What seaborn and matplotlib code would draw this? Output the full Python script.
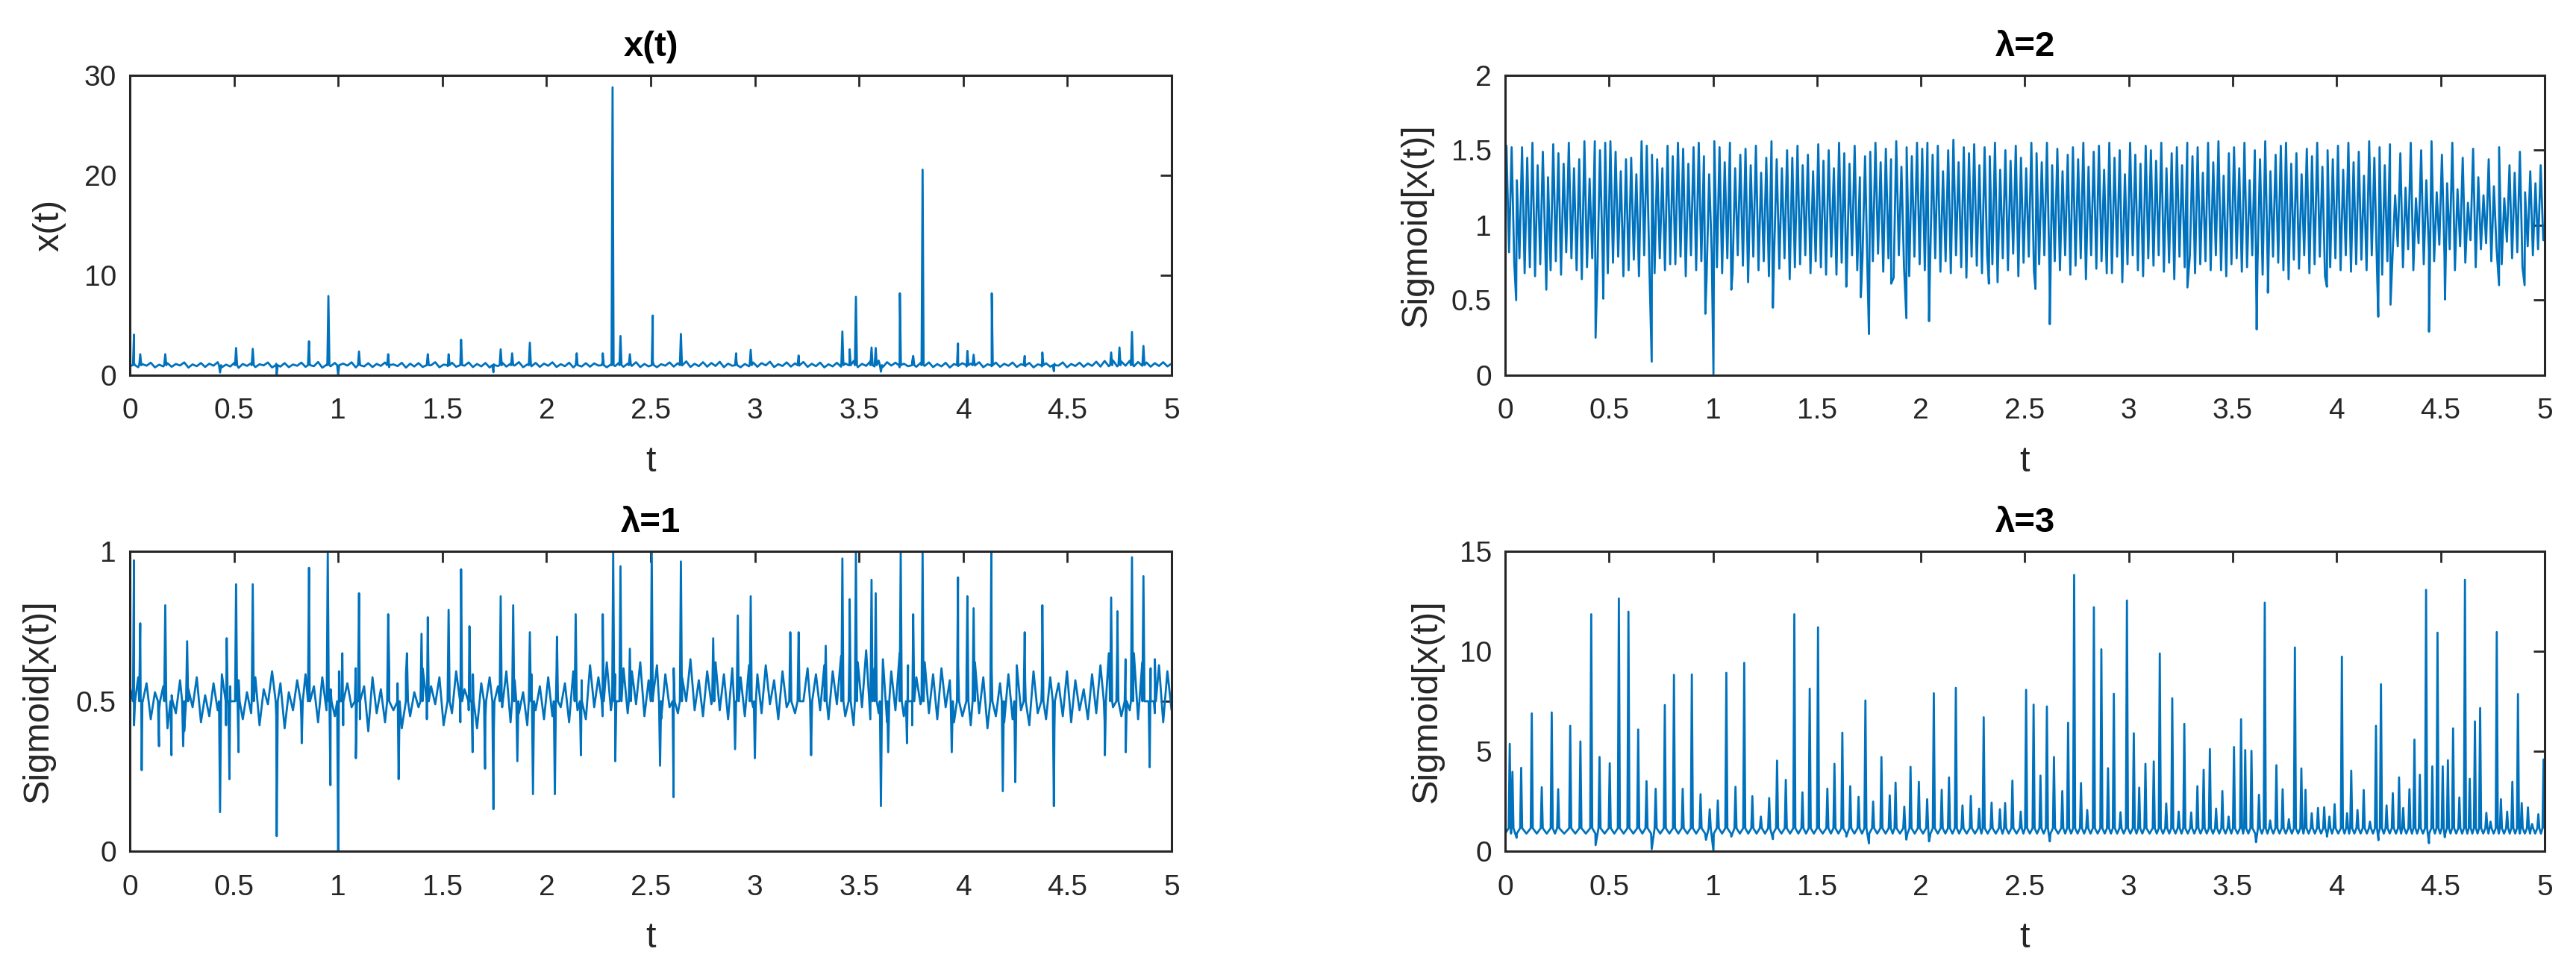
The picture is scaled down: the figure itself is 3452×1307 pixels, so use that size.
import numpy as np
import pandas as pd
import matplotlib
matplotlib.use("Agg")
import matplotlib.pyplot as plt
from matplotlib.ticker import FuncFormatter
import seaborn as sns

# ---------------- valores ----------------
T_MAX = 5.0

# x(t): ruido de base + picos
x_base = [
    0.92, 1.18, 0.80, 1.10, 0.95, 1.25, 0.78, 1.05, 0.88, 1.20,
    0.84, 1.12, 0.97, 1.28, 0.76, 1.08, 0.90, 1.22, 0.82, 1.15,
    0.95, 1.30, 0.79, 1.06, 0.87, 1.24, 0.74, 1.12, 0.93, 1.19,
    0.81, 1.09, 0.98, 1.27, 0.77, 1.14, 0.86, 1.21, 0.80, 1.07,
    0.94, 1.26, 0.83, 1.11, 0.90, 1.32, 0.75, 1.04, 0.89, 1.23,
    0.85, 1.16, 0.96, 1.29, 0.78, 1.10, 0.88, 1.20, 0.81, 1.13,
    0.93, 1.27, 0.80, 1.08, 0.91, 1.24, 0.76, 1.15, 0.87, 1.21,
    0.82, 1.11, 0.99, 1.30, 0.79, 1.06, 0.90, 1.25, 0.84, 1.17,
    0.95, 1.28, 0.81, 1.12, 0.88, 1.22, 0.77, 1.09, 0.92, 1.26,
    0.86, 1.14, 0.97, 1.31, 0.80, 1.07, 0.89, 1.23, 0.83, 1.16,
    0.94, 1.29, 0.82, 1.10, 0.90, 1.25, 0.78, 1.13, 0.87, 1.20,
    0.85, 1.18, 0.96, 1.33, 0.79, 1.08, 0.91, 1.27, 0.84, 1.15,
    0.93, 1.30, 0.81, 1.12, 0.88, 1.36, 0.80, 1.10, 0.95, 1.28,
    0.86, 1.20, 0.97, 1.38, 0.82, 1.14, 0.90, 1.30, 0.85, 1.22,
    0.92, 1.34, 0.80, 1.16, 0.94, 1.40, 0.79, 1.12, 0.89, 1.27,
    0.84, 1.21, 0.98, 1.35, 0.81, 1.10, 0.92, 1.28, 0.86, 1.18,
    0.95, 1.32, 0.83, 1.14, 0.90, 1.26, 0.78, 1.09, 0.88, 1.24,
    0.85, 1.17, 0.99, 1.42, 0.80, 1.13, 0.93, 1.38, 0.87, 1.45,
    0.82, 1.30, 0.96, 1.25, 0.79, 1.15, 0.90, 1.36, 0.84, 1.22,
    0.93, 1.28, 0.81, 1.11, 0.88, 1.24, 0.77, 1.12, 0.91, 1.20,
    0.86, 1.16, 0.97, 1.30, 0.80, 1.09, 0.89, 1.26, 0.83, 1.14,
    0.94, 1.27, 0.82, 1.10, 0.90, 1.23, 0.78, 1.08, 0.87, 1.19,
    0.85, 1.14, 0.96, 1.28, 0.79, 1.12, 0.92, 1.25, 0.84, 1.17,
    0.93, 1.35, 0.86, 1.42, 0.90, 1.48, 0.88, 1.36, 0.95, 1.44,
    0.89, 1.32, 0.94, 1.27, 0.85, 1.20, 0.92, 1.30, 0.88, 1.15]
x_spk_t = [0.020, 0.050, 0.170, 0.433, 0.510, 0.590, 0.705, 0.860, 0.953, 1.000,
           1.100, 1.240, 1.430, 1.530, 1.590, 1.745, 1.780, 1.835, 1.920, 2.145,
           2.270, 2.317, 2.355, 2.400, 2.510, 2.645, 2.910, 2.980, 3.210, 3.420,
           3.455, 3.485, 3.560, 3.580, 3.605, 3.696, 3.760, 3.805, 3.975, 4.020,
           4.050, 4.137, 4.295, 4.380, 4.435, 4.710, 4.750, 4.810, 4.865]
x_spk_v = [4.05, 2.10, 2.10, 0.27, 2.72, 2.64, 0.10, 3.39, 7.92, 0.00,
           2.37, 2.10, 2.10, 2.10, 3.55, 0.30, 2.59, 2.19, 3.25, 2.19,
           2.19, 28.8, 3.92, 2.10, 5.97, 4.13, 2.19, 2.53, 1.97, 4.37,
           2.59, 7.84, 2.77, 2.72, 0.35, 8.19, 1.92, 20.56, 3.17, 2.43,
           2.05, 8.19, 1.92, 2.27, 0.40, 2.27, 2.77, 4.32, 2.93]
X_SHOULDER = 1.0

# lambda = 2: maximos e minimos de cada ciclo + vales profundos
l2_peaks = [
    1.53, 1.52, 1.30, 1.52, 1.45, 1.55, 1.40, 1.49, 1.32, 1.54,
    1.48, 1.41, 1.55, 1.38, 1.44, 1.56, 1.31, 1.56, 1.50, 1.55,
    1.56, 1.49, 1.36, 1.44, 1.45, 1.34, 1.56, 1.53, 1.47, 1.44,
    1.38, 1.53, 1.46, 1.55, 1.51, 1.41, 1.52, 1.55, 1.46, 1.34,
    1.56, 1.52, 1.42, 1.55, 1.38, 1.47, 1.51, 1.40, 1.53, 1.35,
    1.45, 1.56, 1.44, 1.38, 1.50, 1.45, 1.53, 1.40, 1.47, 1.36,
    1.54, 1.43, 1.50, 1.38, 1.55, 1.48, 1.41, 1.53, 1.32, 1.46,
    1.49, 1.55, 1.42, 1.51, 1.44, 1.56, 1.39, 1.52, 1.46, 1.55,
    1.51, 1.55, 1.47, 1.53, 1.36, 1.50, 1.57, 1.42, 1.52, 1.48,
    1.54, 1.40, 1.52, 1.46, 1.55, 1.37, 1.50, 1.43, 1.53, 1.45,
    1.38, 1.55, 1.48, 1.42, 1.55, 1.40, 1.51, 1.36, 1.47, 1.52,
    1.44, 1.55, 1.39, 1.49, 1.53, 1.37, 1.55, 1.45, 1.50, 1.34,
    1.55, 1.47, 1.41, 1.53, 1.50, 1.43, 1.55, 1.38, 1.48, 1.52,
    1.40, 1.55, 1.46, 1.52, 1.35, 1.55, 1.42, 1.56, 1.33, 1.48,
    1.52, 1.38, 1.55, 1.30, 1.50, 1.44, 1.56, 1.36, 1.47, 1.53,
    1.55, 1.41, 1.48, 1.34, 1.51, 1.46, 1.55, 1.39, 1.50, 1.44,
    1.53, 1.37, 1.55, 1.42, 1.49, 1.33, 1.56, 1.45, 1.52, 1.40,
    1.54, 1.20, 1.48, 1.25, 1.55, 1.18, 1.50, 1.30, 1.56, 1.22,
    1.47, 1.28, 1.55, 1.24, 1.45, 1.15, 1.51, 1.32, 1.20, 1.44,
    1.26, 1.52, 1.18, 1.40, 1.35, 1.49, 1.22, 1.36, 1.28, 1.40]
l2_troughs = [
    0.82, 0.75, 0.78, 0.68, 0.72, 0.66, 0.74, 0.80, 0.70, 0.76,
    0.67, 0.82, 0.78, 0.70, 0.64, 0.72, 0.78, 0.70, 0.80, 0.68,
    0.75, 0.79, 0.66, 0.70, 0.77, 0.66, 0.80, 0.72, 0.68, 0.78,
    0.70, 0.74, 0.74, 0.79, 0.66, 0.80, 0.70, 0.76, 0.64, 0.81,
    0.72, 0.68, 0.78, 0.68, 0.80, 0.73, 0.62, 0.79, 0.70, 0.76,
    0.66, 0.80, 0.71, 0.78, 0.64, 0.72, 0.74, 0.80, 0.68, 0.76,
    0.72, 0.67, 0.79, 0.67, 0.75, 0.70, 0.80, 0.70, 0.78, 0.64,
    0.76, 0.81, 0.69, 0.78, 0.65, 0.80, 0.72, 0.66, 0.79, 0.74,
    0.70, 0.73, 0.78, 0.69, 0.76, 0.68, 0.80, 0.72, 0.65, 0.79,
    0.73, 0.68, 0.80, 0.74, 0.62, 0.78, 0.70, 0.81, 0.66, 0.75,
    0.79, 0.69, 0.74, 0.80, 0.66, 0.76, 0.70, 0.80, 0.67, 0.73,
    0.78, 0.64, 0.80, 0.71, 0.76, 0.68, 0.68, 0.79, 0.62, 0.74,
    0.80, 0.70, 0.66, 0.78, 0.73, 0.80, 0.69, 0.75, 0.64, 0.79,
    0.72, 0.80, 0.68, 0.74, 0.76, 0.70, 0.80, 0.70, 0.66, 0.74,
    0.78, 0.69, 0.72, 0.80, 0.72, 0.67, 0.68, 0.79, 0.75, 0.70,
    0.64, 0.77, 0.71, 0.80, 0.68, 0.74, 0.79, 0.66, 0.72, 0.78,
    0.70, 0.80, 0.69, 0.74, 0.77, 0.70, 0.80, 0.72, 0.67, 0.76,
    0.80, 0.86, 0.72, 0.84, 0.70, 0.88, 0.74, 0.82, 0.76, 0.87,
    0.78, 0.84, 0.70, 0.86, 0.75, 0.90, 0.72, 0.84, 0.88, 0.76,
    0.85, 0.74, 0.89, 0.78, 0.82, 0.72, 0.86, 0.80, 0.84, 0.90]
l2_dip_t = [0.053, 0.198, 0.435, 0.472, 0.705, 0.963, 1.002, 1.088, 1.288, 1.641,
            1.711, 1.750, 1.857, 1.930, 2.039, 2.327, 2.551, 2.620, 3.282, 3.615,
            3.669, 3.953, 4.200, 4.259, 4.444, 4.521, 4.781, 4.904]
l2_dip_v = [0.50, 0.57, 0.25, 0.51, 0.09, 0.41, 0.01, 0.57, 0.45, 0.59,
            0.52, 0.275, 0.61, 0.38, 0.36, 0.61, 0.575, 0.34, 0.585, 0.305,
            0.55, 0.59, 0.39, 0.47, 0.29, 0.505, 0.60, 0.60]

# lambda = 1: ruido de base + picos
l1_base = [
    0.55, 0.42, 0.58, 0.50, 0.56, 0.44, 0.53, 0.47, 0.55, 0.41,
    0.52, 0.46, 0.57, 0.40, 0.54, 0.48, 0.58, 0.43, 0.52, 0.45,
    0.56, 0.47, 0.59, 0.42, 0.55, 0.50, 0.57, 0.44, 0.53, 0.46,
    0.58, 0.42, 0.54, 0.49, 0.60, 0.45, 0.56, 0.41, 0.53, 0.47,
    0.57, 0.44, 0.59, 0.50, 0.55, 0.43, 0.58, 0.47, 0.54, 0.45,
    0.60, 0.42, 0.56, 0.48, 0.61, 0.44, 0.55, 0.40, 0.58, 0.46,
    0.54, 0.43, 0.60, 0.47, 0.56, 0.41, 0.59, 0.45, 0.53, 0.48,
    0.61, 0.44, 0.55, 0.49, 0.58, 0.42, 0.57, 0.46, 0.60, 0.43,
    0.54, 0.47, 0.59, 0.41, 0.56, 0.45, 0.58, 0.40, 0.55, 0.48,
    0.60, 0.43, 0.57, 0.46, 0.53, 0.42, 0.59, 0.47, 0.55, 0.44,
    0.58, 0.45, 0.61, 0.48, 0.56, 0.43, 0.60, 0.47, 0.57, 0.44,
    0.62, 0.48, 0.58, 0.45, 0.63, 0.47, 0.59, 0.50, 0.61, 0.46,
    0.60, 0.49, 0.63, 0.45, 0.57, 0.51, 0.62, 0.44, 0.59, 0.48,
    0.61, 0.46, 0.58, 0.50, 0.64, 0.47, 0.57, 0.45, 0.60, 0.49,
    0.63, 0.47, 0.59, 0.44, 0.61, 0.50, 0.58, 0.45, 0.62, 0.48,
    0.59, 0.46, 0.62, 0.49, 0.57, 0.44, 0.60, 0.48, 0.63, 0.46,
    0.58, 0.50, 0.61, 0.45, 0.59, 0.47, 0.62, 0.44, 0.60, 0.49,
    0.65, 0.45, 0.66, 0.42, 0.63, 0.48, 0.67, 0.44, 0.61, 0.46,
    0.64, 0.43, 0.60, 0.47, 0.66, 0.45, 0.62, 0.42, 0.58, 0.49,
    0.63, 0.46, 0.59, 0.44, 0.61, 0.48, 0.57, 0.43, 0.62, 0.45,
    0.60, 0.42, 0.63, 0.46, 0.58, 0.41, 0.61, 0.45, 0.56, 0.43,
    0.59, 0.44, 0.62, 0.47, 0.57, 0.42, 0.60, 0.46, 0.55, 0.44,
    0.58, 0.41, 0.56, 0.45, 0.60, 0.43, 0.57, 0.47, 0.54, 0.44,
    0.59, 0.46, 0.62, 0.43, 0.66, 0.48, 0.68, 0.45, 0.64, 0.47,
    0.66, 0.44, 0.63, 0.50, 0.61, 0.46, 0.62, 0.43, 0.60, 0.47]
l1_spk_t = [0.020, 0.050, 0.057, 0.140, 0.170, 0.200, 0.256, 0.275, 0.433, 0.465,
            0.478, 0.510, 0.522, 0.590, 0.705, 0.825, 0.860, 0.950, 0.963, 1.000,
            1.020, 1.085, 1.100, 1.240, 1.290, 1.330, 1.400, 1.430, 1.530, 1.590,
            1.630, 1.645, 1.705, 1.745, 1.780, 1.840, 1.860, 1.920, 1.935, 2.040,
            2.050, 2.140, 2.165, 2.270, 2.320, 2.330, 2.355, 2.400, 2.505, 2.545,
            2.610, 2.645, 2.800, 2.905, 2.918, 2.980, 3.000, 3.170, 3.210, 3.270,
            3.340, 3.420, 3.455, 3.485, 3.560, 3.580, 3.605, 3.640, 3.700, 3.730,
            3.760, 3.805, 3.945, 3.975, 4.020, 4.050, 4.135, 4.190, 4.250, 4.295,
            4.380, 4.435, 4.680, 4.710, 4.740, 4.780, 4.810, 4.865, 4.895, 4.920]
l1_spk_v = [0.97, 0.76, 0.27, 0.35, 0.82, 0.32, 0.35, 0.70, 0.13, 0.71,
            0.24, 0.89, 0.33, 0.89, 0.05, 0.36, 0.945, 1.00, 0.22, 0.00,
            0.66, 0.31, 0.86, 0.79, 0.24, 0.66, 0.725, 0.78, 0.805, 0.94,
            0.75, 0.33, 0.275, 0.14, 0.85, 0.82, 0.30, 0.73, 0.19, 0.19,
            0.715, 0.79, 0.32, 0.79, 1.00, 0.30, 0.95, 0.675, 1.00, 0.285,
            0.18, 0.966, 0.71, 0.34, 0.786, 0.85, 0.31, 0.73, 0.73, 0.32,
            0.685, 0.976, 0.84, 1.00, 0.905, 0.86, 0.15, 0.33, 1.00, 0.36,
            0.79, 1.00, 0.33, 0.913, 0.85, 0.81, 1.00, 0.20, 0.23, 0.73,
            0.82, 0.15, 0.32, 0.846, 0.80, 0.33, 0.98, 0.917, 0.28, 0.64]
L1_SHOULDER = 0.5

# lambda = 3: picos (tempo, altura) e vales profundos
l3_peak_t = [
    0.022, 0.035, 0.077, 0.128, 0.176, 0.224, 0.255, 0.313, 0.362, 0.414,
    0.454, 0.503, 0.547, 0.593, 0.640, 0.680, 0.724, 0.768, 0.812, 0.854,
    0.898, 0.940, 0.984, 1.023, 1.064, 1.108, 1.150, 1.189, 1.230, 1.270,
    1.308, 1.350, 1.391, 1.430, 1.465, 1.505, 1.550, 1.584, 1.622, 1.660,
    1.700, 1.733, 1.770, 1.810, 1.850, 1.878, 1.920, 1.950, 1.990, 2.030,
    2.062, 2.100, 2.135, 2.168, 2.200, 2.240, 2.280, 2.302, 2.340, 2.380,
    2.405, 2.440, 2.480, 2.506, 2.542, 2.575, 2.606, 2.640, 2.680, 2.708,
    2.737, 2.770, 2.800, 2.832, 2.868, 2.900, 2.928, 2.960, 2.991, 3.024,
    3.050, 3.080, 3.120, 3.149, 3.180, 3.209, 3.240, 3.267, 3.300, 3.330,
    3.360, 3.390, 3.420, 3.450, 3.480, 3.506, 3.540, 3.560, 3.590, 3.626,
    3.654, 3.680, 3.710, 3.740, 3.770, 3.799, 3.830, 3.850, 3.880, 3.910,
    3.940, 3.965, 3.990, 4.025, 4.050, 4.070, 4.100, 4.130, 4.160, 4.189,
    4.213, 4.240, 4.270, 4.300, 4.320, 4.350, 4.374, 4.400, 4.430, 4.460,
    4.485, 4.510, 4.535, 4.560, 4.590, 4.617, 4.640, 4.665, 4.690, 4.720,
    4.740, 4.770, 4.790, 4.820, 4.845, 4.872, 4.890, 4.920, 4.940, 4.970,
    4.995]
l3_peak_v = [
    5.37, 3.97, 4.17, 6.89, 3.20, 6.94, 3.10, 6.27, 5.49, 11.85,
    4.71, 4.40, 12.64, 11.98, 6.09, 3.50, 3.12, 7.31, 8.82, 3.12,
    8.84, 2.85, 2.10, 2.54, 8.92, 3.22, 9.42, 2.75, 1.73, 2.66,
    4.53, 3.57, 11.85, 2.94, 8.13, 11.20, 3.13, 4.37, 5.93, 3.25,
    2.72, 7.54, 2.48, 4.71, 2.79, 3.43, 2.23, 4.22, 3.47, 2.60,
    7.90, 3.07, 3.69, 8.17, 2.29, 2.76, 2.13, 6.70, 2.43, 2.10,
    2.41, 3.53, 1.98, 8.07, 7.33, 3.78, 7.24, 4.71, 3.01, 6.42,
    13.82, 3.41, 2.06, 12.20, 10.10, 4.15, 7.87, 1.95, 12.54, 5.90,
    3.18, 4.37, 4.49, 9.89, 2.39, 7.65, 1.98, 6.37, 1.94, 3.25,
    4.07, 5.11, 2.13, 3.01, 1.73, 5.21, 6.60, 5.06, 5.02, 2.82,
    12.43, 1.54, 4.30, 3.10, 1.60, 10.19, 4.14, 3.07, 1.90, 2.16,
    2.20, 1.73, 2.35, 9.73, 1.90, 4.03, 2.06, 3.06, 1.48, 6.27,
    8.35, 2.29, 2.90, 3.69, 2.16, 3.10, 5.58, 3.82, 13.07, 4.24,
    10.93, 4.24, 4.55, 6.14, 2.69, 13.58, 3.62, 6.49, 7.16, 1.92,
    1.48, 10.96, 2.60, 1.98, 3.47, 7.86, 2.41, 2.19, 1.36, 1.85,
    4.59]
l3_dip_t = [0.055, 0.435, 0.705, 0.966, 1.002, 1.088, 1.288, 1.641, 1.750, 1.930,
            2.039, 2.620, 3.612, 3.953, 4.201, 4.444, 4.520]
l3_dip_v = [0.67, 0.30, 0.10, 0.57, 0.00, 0.73, 0.60, 0.73, 0.39, 0.58,
            0.49, 0.49, 0.45, 0.73, 0.55, 0.40, 0.70]
L3_TROUGH = 0.88      # nivel de base entre picos
L3_SHOULDER = 1.15    # nivel no pe de cada pico

SPIKE_HALF = 0.005    # meia largura dos picos estreitos

panel_titles = ["x(t)", "λ=2", "λ=1", "λ=3"]
panel_ylabels = ["x(t)", "Sigmoid[x(t)]", "Sigmoid[x(t)]", "Sigmoid[x(t)]"]
panel_ylims = [(0, 30), (0, 2), (0, 1), (0, 15)]
panel_yticks = [[0, 10, 20, 30], [0, 0.5, 1, 1.5, 2], [0, 0.5, 1], [0, 5, 10, 15]]
xticks = [0, 0.5, 1, 1.5, 2, 2.5, 3, 3.5, 4, 4.5, 5]


def sorted_frame(t, v):
    t = np.asarray(t, dtype=float)
    v = np.asarray(v, dtype=float)
    o = np.argsort(t, kind="stable")
    return pd.DataFrame({"t": t[o], "v": v[o]})


def merge_series(base_vals, ev_t, ev_v, shoulder):
    tb = np.linspace(0, T_MAX, len(base_vals))
    ev_t = np.asarray(ev_t)
    sh_t = np.concatenate([ev_t - SPIKE_HALF, ev_t + SPIKE_HALF])
    sh_v = np.full(len(sh_t), shoulder)
    t = np.concatenate([tb, ev_t, sh_t])
    v = np.concatenate([base_vals, ev_v, sh_v])
    keep = (t >= 0) & (t <= T_MAX)
    return sorted_frame(t[keep], v[keep])


def cycle_series(peaks, troughs, dip_t, dip_v):
    n = len(peaks)
    per = T_MAX / n
    t = np.concatenate([(np.arange(n) + 0.25) * per,
                        (np.arange(n) + 0.75) * per, dip_t])
    v = np.concatenate([peaks, troughs, dip_v])
    return sorted_frame(t, v)


def spike_series(pt, pv, dt, dv):
    pt = np.asarray(pt)
    ts, vs = [0.0], [L3_TROUGH]
    for i in range(len(pt)):
        ts += [pt[i] - SPIKE_HALF, pt[i], pt[i] + SPIKE_HALF]
        vs += [L3_SHOULDER, pv[i], L3_SHOULDER]
        if i < len(pt) - 1:
            ts.append(0.5 * (pt[i] + pt[i + 1]))
            vs.append(L3_TROUGH)
    return sorted_frame(np.concatenate([ts, dt]), np.concatenate([vs, dv]))


series = [
    merge_series(x_base, x_spk_t, x_spk_v, X_SHOULDER),
    cycle_series(l2_peaks, l2_troughs, l2_dip_t, l2_dip_v),
    merge_series(l1_base, l1_spk_t, l1_spk_v, L1_SHOULDER),
    spike_series(l3_peak_t, l3_peak_v, l3_dip_t, l3_dip_v),
]

# ---------------- estilo ----------------
sns.set_style("white")
plt.rcParams["font.family"] = ["Liberation Sans", "DejaVu Sans"]
BLUE = "#0072BD"
DARK = "#262626"

fig = plt.figure(figsize=(17.26, 6.535), dpi=200)
rects = [
    [0.0504, 0.6152, 0.4044, 0.3076],
    [0.5843, 0.6152, 0.4035, 0.3076],
    [0.0504, 0.1270, 0.4044, 0.3076],
    [0.5843, 0.1270, 0.4035, 0.3076],
]
ylab_x = [-0.061, -0.069, -0.0716, -0.059]
fmt = FuncFormatter(lambda val, pos: f"{val:g}")

for i in range(4):
    ax = fig.add_axes(rects[i])
    sns.lineplot(data=series[i], x="t", y="v", ax=ax, color=BLUE,
                 linewidth=1.0, estimator=None, sort=False)
    ax.set_xlim(0, T_MAX)
    ax.set_ylim(*panel_ylims[i])
    ax.set_xticks(xticks)
    ax.set_yticks(panel_yticks[i])
    ax.xaxis.set_major_formatter(fmt)
    ax.yaxis.set_major_formatter(fmt)
    for s in ax.spines.values():
        s.set_visible(True)
        s.set_color(DARK)
        s.set_linewidth(1.1)
    ax.tick_params(axis="both", direction="in", length=5.4, width=1.0,
                   top=True, right=True, colors=DARK, labelsize=14)
    ax.tick_params(axis="x", pad=11)
    ax.tick_params(axis="y", pad=6.5)
    ax.set_xlabel("t", fontsize=17.5, color=DARK, va="top")
    ax.xaxis.set_label_coords(0.5, -0.235)
    ax.set_ylabel(panel_ylabels[i], fontsize=17.5, color=DARK)
    ax.yaxis.set_label_coords(ylab_x[i], 0.5)
    ax.set_title(panel_titles[i], fontsize=17, fontweight="bold",
                 color="black", pad=9.5)

fig.savefig("out.png", dpi=200, facecolor="white")
